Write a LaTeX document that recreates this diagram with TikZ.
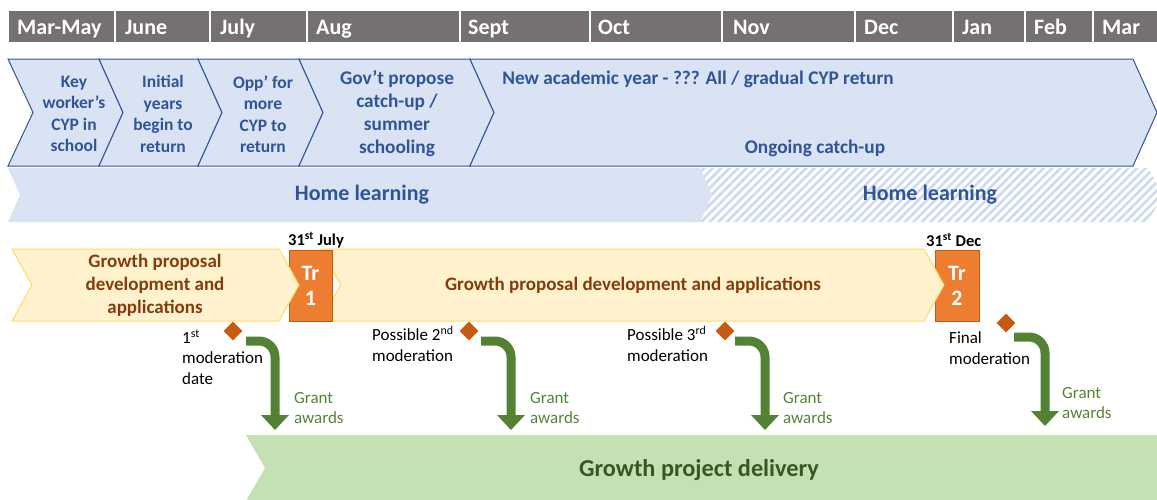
\documentclass[tikz,border=0pt]{standalone}
\usepackage{fontspec}
\setmainfont{Carlito}
\usetikzlibrary{shapes.geometric,arrows.meta,patterns.meta}

\definecolor{monthgray}{HTML}{767171}
\definecolor{chevfill}{HTML}{DAE3F3}
\definecolor{chevline}{HTML}{2F5597}
\definecolor{hatchblue}{HTML}{CCD9F0}
\definecolor{propfill}{HTML}{FFF2CC}
\definecolor{propline}{HTML}{FFD966}
\definecolor{proptext}{HTML}{843C0C}
\definecolor{trorange}{HTML}{ED7D31}
\definecolor{trline}{HTML}{C55A11}
\definecolor{modmark}{HTML}{C55A11}
\definecolor{grantgreen}{HTML}{548235}
\definecolor{deliverfill}{HTML}{C5E0B4}
\definecolor{delivertext}{HTML}{385723}

\tikzset{
  monthcell/.style={fill=monthgray,draw=white,line width=1.5pt},
  monthtxt/.style={anchor=base west,inner sep=0pt,text=white,font=\fontsize{22}{25}\selectfont\bfseries},
  chevron/.style={fill=chevfill,draw=chevline,line width=1pt},
  chevtxt/.style={align=center,inner sep=0pt,text=chevline,font=\fontsize{17.5}{21.5}\selectfont\bfseries},
  chevbig/.style={chevtxt,font=\fontsize{19.3}{23}\selectfont\bfseries},
  hometxt/.style={inner sep=0pt,text=chevline,font=\fontsize{22}{25}\selectfont\bfseries},
  proposal/.style={fill=propfill,draw=propline,line width=1pt},
  proptxt/.style={align=center,inner sep=0pt,text=proptext,font=\fontsize{19}{23}\selectfont\bfseries},
  trbox/.style={fill=trorange,draw=trline,line width=0.8pt},
  trtxt/.style={align=center,inner sep=0pt,text=white,font=\fontsize{22}{25}\selectfont\bfseries},
  datetxt/.style={anchor=west,inner sep=0pt,font=\fontsize{16.5}{19}\selectfont\bfseries},
  moddot/.style={diamond,fill=modmark,inner sep=0pt,minimum width=19pt,minimum height=19pt},
  modtxt/.style={anchor=west,align=left,inner sep=0pt,font=\fontsize{17}{20.5}\selectfont},
  granttxt/.style={anchor=west,align=left,inner sep=0pt,text=grantgreen,font=\fontsize{17}{20.5}\selectfont},
  grantarrow/.style={draw=grantgreen,line width=9pt,rounded corners=16pt,-{Triangle[width=27pt,length=15pt]}}
}

\begin{document}
\begin{tikzpicture}[x=1pt,y=-1pt]
    \clip (0,0) rectangle (1157,499);

    % months
    \draw[monthcell] (8,10) rectangle (115,43);     \node[monthtxt] (mmar) at (17,34) {Mar-May};
    \draw[monthcell] (115,10) rectangle (210,43);   \node[monthtxt] (mjun) at (125,34) {June};
    \draw[monthcell] (210,10) rectangle (307,43);   \node[monthtxt] (mjul) at (220,34) {July};
    \draw[monthcell] (307,10) rectangle (460,43);   \node[monthtxt] (maug) at (316,34) {Aug};
    \draw[monthcell] (460,10) rectangle (590,43);   \node[monthtxt] (msep) at (468,34) {Sept};
    \draw[monthcell] (590,10) rectangle (722,43);   \node[monthtxt] (moct) at (598,34) {Oct};
    \draw[monthcell] (722,10) rectangle (855,43);   \node[monthtxt] (mnov) at (733,34) {Nov};
    \draw[monthcell] (855,10) rectangle (953,43);   \node[monthtxt] (mdec) at (864,34) {Dec};
    \draw[monthcell] (953,10) rectangle (1025,43);  \node[monthtxt] (mjan) at (962,34) {Jan};
    \draw[monthcell] (1025,10) rectangle (1093,43); \node[monthtxt] (mfeb) at (1034,34) {Feb};
    \draw[monthcell] (1093,10) rectangle (1160,43); \node[monthtxt] (mmr2) at (1102,34) {Mar};

    % school chevrons
    \draw[chevron] (8,59) -- (99,59) -- (123,112.5) -- (99,166) -- (8,166) -- (33,112.5) -- cycle;
    \draw[chevron] (99,59) -- (198,59) -- (222,112.5) -- (198,166) -- (99,166) -- (123,112.5) -- cycle;
    \draw[chevron] (198,59) -- (299,59) -- (323,112.5) -- (299,166) -- (198,166) -- (222,112.5) -- cycle;
    \draw[chevron] (299,59) -- (470,59) -- (494,112.5) -- (470,166) -- (299,166) -- (323,112.5) -- cycle;
    \draw[chevron] (470,59) -- (1133,59) -- (1157,112.5) -- (1133,166) -- (470,166) -- (494,112.5) -- cycle;
    \node[chevtxt] (keyw) at (74,114) {Key\\worker’s\\CYP in\\school};
    \node[chevtxt] (init) at (163,114) {Initial\\years\\begin to\\return};
    \node[chevtxt] (opps) at (263,114) {Opp’ for\\more\\CYP to\\return};
    \node[chevbig] (govt) at (397,114) {Gov’t propose\\catch-up /\\summer\\schooling};
    \node[chevbig] (newy) at (698,79) {New academic year - ??? All / gradual CYP return};
    \node[chevbig] (ongo) at (815,148) {Ongoing catch-up};

    % home learning
    \fill[chevfill] (8,168) -- (700,168) -- (712,195) -- (700,222) -- (8,222) -- (20,195) -- cycle;
    \fill[pattern={Lines[angle=45,distance=6pt,line width=2.6pt]},pattern color=hatchblue]
          (700,168) -- (1148,168) -- (1163,195) -- (1148,222) -- (700,222) -- (712,195) -- cycle;
    \node[hometxt] (home1) at (362,195) {Home learning};
    \node[hometxt] (home2) at (930,195) {Home learning};

    % growth proposals and tranches
    \draw[trbox] (935,250) rectangle (979,321);
    \draw[proposal] (320,249) -- (924,249) -- (944,285) -- (924,321) -- (320,321) -- (341,285) -- cycle;
    \draw[trbox] (289,250) rectangle (332,321);
    \draw[proposal] (12,249) -- (279,249) -- (299,285) -- (279,321) -- (12,321) -- (32,285) -- cycle;
    \node[proptxt] (prop1) at (155,285) {Growth proposal\\development and\\applications};
    \node[proptxt] (prop2) at (633,285) {Growth proposal development and applications};
    \node[trtxt] (tr1) at (310.5,285.5) {Tr\\1};
    \node[trtxt] (tr2) at (957,285.5) {Tr\\2};
    \node[datetxt] (jul31) at (288,240) {31\textsuperscript{st} July};
    \node[datetxt] (dec31) at (926,240) {31\textsuperscript{st} Dec};

    % moderation
    \node[moddot] (mod1) at (233,331) {};
    \node[moddot] (mod2) at (469,331) {};
    \node[moddot] (mod3) at (725,331) {};
    \node[moddot] (mod4) at (1006,323) {};
    \node[modtxt] (modl1) at (182,357) {1\textsuperscript{st}\\moderation\\date};
    \node[modtxt] (modl2) at (372,344) {Possible 2\textsuperscript{nd}\\moderation};
    \node[modtxt] (modl3) at (627,344) {Possible 3\textsuperscript{rd}\\moderation};
    \node[modtxt] (modl4) at (949,348) {Final\\moderation};

    % delivery
    \fill[deliverfill] (246,435) -- (1160,435) -- (1160,501) -- (246,501) -- (265,468) -- cycle;
    \node[inner sep=0pt,text=delivertext,font=\fontsize{24.3}{28}\selectfont\bfseries] (deliv) at (699,470) {Growth project delivery};

    % grant awards
    \coordinate (g1s) at (246,341);  \coordinate (g1e) at (275,430);
    \coordinate (g2s) at (481,341);  \coordinate (g2e) at (511,430);
    \coordinate (g3s) at (735,341);  \coordinate (g3e) at (765,430);
    \coordinate (g4s) at (1014,337); \coordinate (g4e) at (1045,426);
    \draw[grantarrow] (g1s) -| (g1e);
    \draw[grantarrow] (g2s) -| (g2e);
    \draw[grantarrow] (g3s) -| (g3e);
    \draw[grantarrow] (g4s) -| (g4e);
    \node[granttxt] (gr1) at (294,408) {Grant\\awards};
    \node[granttxt] (gr2) at (530,408) {Grant\\awards};
    \node[granttxt] (gr3) at (783,408) {Grant\\awards};
    \node[granttxt] (gr4) at (1062,403) {Grant\\awards};
\end{tikzpicture}
\end{document}
